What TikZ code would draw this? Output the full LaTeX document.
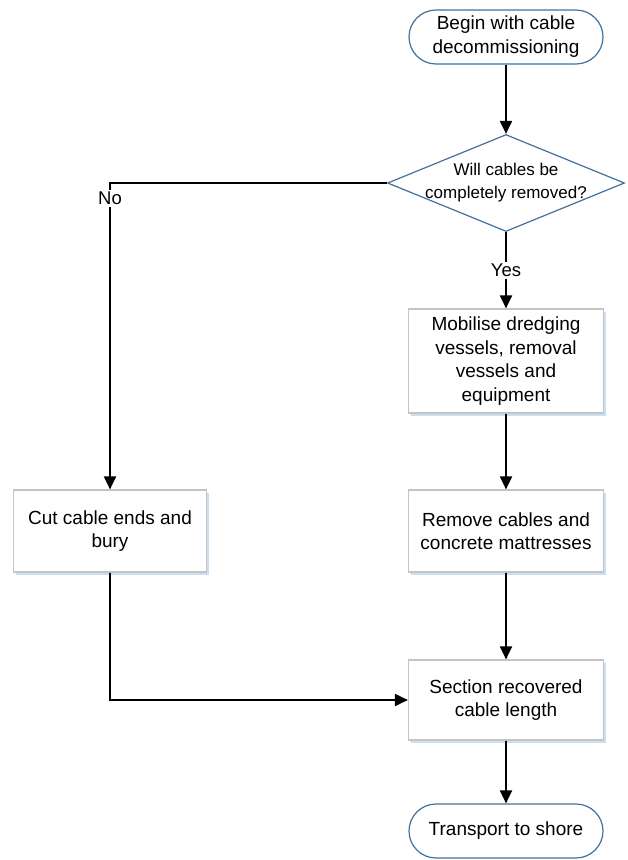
\documentclass[tikz,border=0pt]{standalone}
\usepackage{fontspec}
\setmainfont{Liberation Sans}
\usepackage{tikz}
\usetikzlibrary{arrows.meta,shapes.geometric,shadows}
\definecolor{termblue}{HTML}{41719C}
\definecolor{boxgray}{HTML}{C4C4C4}
\definecolor{shade}{HTML}{BDD7EE}

\begin{document}
\begin{tikzpicture}[x=1pt,y=-1pt,
  term/.style={rectangle,rounded corners=27pt,draw=termblue,line width=1.2pt,fill=white,
    minimum width=194pt,minimum height=54pt,inner sep=0pt,align=center,
    font=\fontsize{19}{24}\selectfont},
  proc/.style={rectangle,draw=boxgray,line width=1.2pt,fill=white,
    drop shadow={shadow xshift=2pt,shadow yshift=-2.5pt,fill=shade,opacity=0.8},
    minimum width=195pt,inner sep=0pt,align=center,
    font=\fontsize{19}{23.5}\selectfont},
  dec/.style={diamond,draw=termblue,line width=1.2pt,fill=white,
    minimum width=237pt,minimum height=97pt,inner sep=0pt},
  dectxt/.style={align=center,inner sep=0pt,font=\fontsize{17}{23}\selectfont},
  arr/.style={line width=2pt,-{Triangle[length=13pt,width=12pt]}},
  lbl/.style={fill=white,inner sep=2pt,font=\fontsize{18.5}{20}\selectfont}]
\useasboundingbox (0,0) rectangle (627,860);
% nodes
\node[term] (start) at (506,37) {Begin with cable\\decommissioning};
\node[dec] (dec) at (506,183) {};
\node[dectxt] (dectext) at (506,183) {Will cables be\\completely removed?};
\node[proc,minimum height=104pt] (mob) at (506,361)
  {Mobilise dredging\\vessels, removal\\vessels and\\equipment};
\node[proc,minimum height=82pt] (rem) at (506,531)
  {Remove cables and\\concrete mattresses};
\node[proc,minimum height=82pt,minimum width=193pt] (cut) at (110,531)
  {Cut cable ends and\\bury};
\node[proc,minimum height=80pt] (sec) at (506,700)
  {Section recovered\\cable length};
\node[term] (trm) at (506,831) {Transport to shore};
% connectors
\draw[arr] (start) -- (dec);
\draw[arr] (dec.west) -| node[lbl,pos=0.525] (no) {No} (cut.north);
\draw[arr] (dec.south) -- node[lbl] (yes) {Yes} (mob);
\draw[arr] (mob) -- (rem);
\draw[arr] (rem) -- (sec);
\draw[arr] (cut.south) |- (sec.west);
\draw[arr] (sec) -- (trm);
\end{tikzpicture}
\end{document}
